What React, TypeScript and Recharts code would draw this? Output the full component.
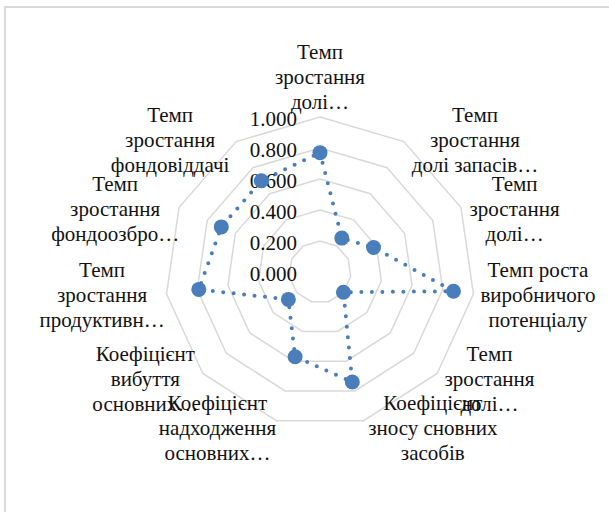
import { PolarAngleAxis, PolarGrid, PolarRadiusAxis, Radar, RadarChart } from "recharts";

const categories = [
  "Темп\nзростання\nдолі…",
  "Темп\nзростання\nдолі запасів…",
  "Темп\nзростання\nдолі…",
  "Темп роста\nвиробничого\nпотенціалу",
  "Темп\nзростання\nдолі…",
  "Коефіцієнт\nзносу сновних\nзасобів",
  "Коефіцієнт\nнадходження\nосновних…",
  "Коефіцієнт\nвибуття\nосновних…",
  "Темп\nзростання\nпродуктивн…",
  "Темп\nзростання\nфондоозбро…",
  "Темп\nзростання\nфондовіддачі",
];

const values = [0.77, 0.26, 0.38, 0.87, 0.2, 0.74, 0.57, 0.27, 0.79, 0.7, 0.7];

const radiusTicks = [0, 0.2, 0.4, 0.6, 0.8, 1];

// the same label appears more than once, so the axis is keyed by position
const data = categories.map((name, i) => ({ key: i, name, value: values[i] }));

const FONT = "'Liberation Serif', 'Times New Roman', serif";
const BLUE = "#4A7EBB";
const LINE_H = 25;
const FONT_SIZE = 21;

const AngleTick = (props: any) => {
  const { x, y, payload } = props;
  const lines: string[] = String(categories[payload.value] ?? "").split("\n");
  const a = (payload.coordinate * Math.PI) / 180;
  const c = Math.cos(a);
  const s = Math.sin(a);
  const n = lines.length;

  if (Math.abs(c) < 0.15) {
    // top / bottom: centred over the point
    return (
      <text fontFamily={FONT} fontSize={FONT_SIZE} fill="#111" textAnchor="middle">
        {lines.map((l, i) => (
          <tspan key={i} x={x} y={s > 0 ? y - (n - 1 - i) * LINE_H : y + 16 + i * LINE_H}>{l}</tspan>
        ))}
      </text>
    );
  }

  const w = Math.max(...lines.map((l) => l.length)) * FONT_SIZE * 0.49;
  const mid = c > 0 ? x + w / 2 : x - w / 2;
  const shift = s > 0.3 ? 5 : 0;
  return (
    <text fontFamily={FONT} fontSize={FONT_SIZE} fill="#111" textAnchor="middle">
      {lines.map((l, i) => (
        <tspan key={i} x={mid} y={y + shift + 7 + (i - (n - 1) / 2) * LINE_H}>{l}</tspan>
      ))}
    </text>
  );
};

const RadiusTick = (props: any) => {
  const { x, y, payload } = props;
  return (
    <text x={x - 23} y={y + 9} fontFamily={FONT} fontSize={FONT_SIZE} fill="#111" textAnchor="end">
      {Number(payload.value).toFixed(3)}
    </text>
  );
};

const App = () => {
  return (
    <div style={{ position: "fixed", left: 0, top: 0, width: 609, height: 512, background: "#fff", overflow: "hidden" }}>
      <div
        style={{
          position: "absolute",
          left: 4,
          top: 6,
          width: 640,
          height: 540,
          borderLeft: "2px solid #d9d9d9",
          borderTop: "2px solid #d9d9d9",
        }}
      />
      <div style={{ position: "absolute", left: 0, top: 0 }}>
        <RadarChart width={609} height={512} data={data} cx={320} cy={272} outerRadius={155} margin={{ top: 0, right: 0, bottom: 0, left: 0 }}>
          <PolarGrid gridType="polygon" radialLines={false} stroke="#d9d9d9" strokeWidth={1.5} />
          <PolarAngleAxis dataKey="key" type="category" tick={<AngleTick />} tickLine={false} axisLine={false} />
          <Radar
            dataKey="value"
            stroke={BLUE}
            strokeWidth={4}
            strokeDasharray="0 10.5"
            strokeLinecap="round"
            fill="none"
            fillOpacity={0}
            isAnimationActive={false}
            dot={(p: any) => <circle key={p.index} cx={p.cx} cy={p.cy} r={7.5} fill={BLUE} stroke="none" />}
          />
          <PolarRadiusAxis angle={90} domain={[0, 1]} ticks={radiusTicks} tickCount={6} axisLine={false} tickLine={false} tick={<RadiusTick />} />
        </RadarChart>
      </div>
    </div>
  );
};

export default App;
